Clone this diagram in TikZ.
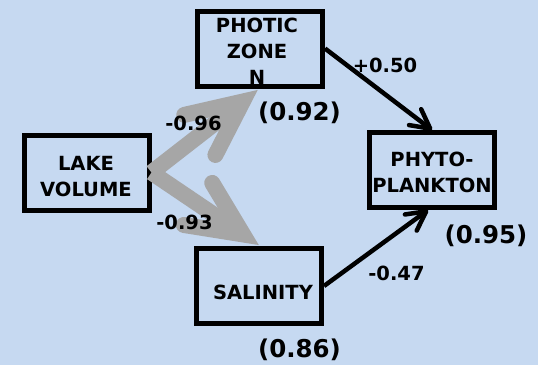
\documentclass[tikz,border=0pt]{standalone}
\usepackage{fontspec}
\setmainfont{DejaVu Sans}
\usetikzlibrary{arrows.meta,calc}
\definecolor{bg}{HTML}{C6D9F1}
\definecolor{grayarr}{HTML}{A6A6A6}
\begin{document}
\begin{tikzpicture}[x=1pt,y=-1pt,
  box/.style={draw=black, line width=5pt, minimum width=125pt, minimum height=75pt, inner sep=0pt},
  boxtext/.style={font=\bfseries\fontsize{19.5}{26}\selectfont, align=center, inner sep=0pt},
  coef/.style={font=\bfseries\fontsize{19.5}{23}\selectfont, inner sep=0pt, anchor=base},
  rsq/.style={font=\bfseries\fontsize{24.5}{29}\selectfont, inner sep=0pt, anchor=base},
  patharrow/.style={draw=black, line width=4.5pt, -{Straight Barb[length=19pt,width=20pt,round]}},
  thickarrow/.style={draw=grayarr, line width=16pt},
]
\fill[bg] (0,0) rectangle (538,365);
\useasboundingbox (0,0) rectangle (538,365);

% boxes
\node[box] (lake) at (86.5,172.5) {};
\node[box] (photic) at (260,48.5) {};
\node[box] (phyto) at (432,170) {};
\node[box] (sal) at (259,286) {};

% gray arrows
\coordinate (t1) at ([xshift=-3pt,yshift=-2pt]photic.south);
\coordinate (t2) at ([xshift=-1pt,yshift=1.5pt]sal.north);
\coordinate (c1) at ($(t1)!18pt!(lake.east)$);
\coordinate (c2) at ($(t2)!18pt!(lake.east)$);
\draw[thickarrow] (lake.east) -- (c1);
\draw[thickarrow] (lake.east) -- (c2);
\draw[thickarrow, line cap=round, line join=miter]
  ($(c1)!60pt!25:(lake.east)$) -- (c1) -- ($(c1)!60pt!-25:(lake.east)$);
\draw[thickarrow, line cap=round, line join=miter]
  ($(c2)!60pt!25:(lake.east)$) -- (c2) -- ($(c2)!60pt!-25:(lake.east)$);

% black arrows
\draw[patharrow] (photic.east) -- (phyto.north);
\draw[patharrow] (sal.east) -- ([xshift=-4pt]phyto.south);

% box texts
\node[boxtext] (lakeT) at (86,176.5) {LAKE\\VOLUME};
\node[boxtext] (photicT) at (257,51.5) {PHOTIC\\ZONE\\N};
\node[boxtext] (phytoT) at (432,172.5) {PHYTO-\\PLANKTON};
\node[boxtext] (salT) at (263,292.5) {SALINITY};

% coefficients
\node[coef] (c50) at (385,72) {+0.50};
\node[coef] (c96) at (193.5,130) {-0.96};
\node[coef] (c93) at (184.5,229) {-0.93};
\node[coef] (c47) at (396.5,280) {-0.47};
\node[rsq] (r92) at (299.5,120) {(0.92)};
\node[rsq] (r95) at (486,243) {(0.95)};
\node[rsq] (r86) at (299.5,357) {(0.86)};
\end{tikzpicture}
\end{document}
